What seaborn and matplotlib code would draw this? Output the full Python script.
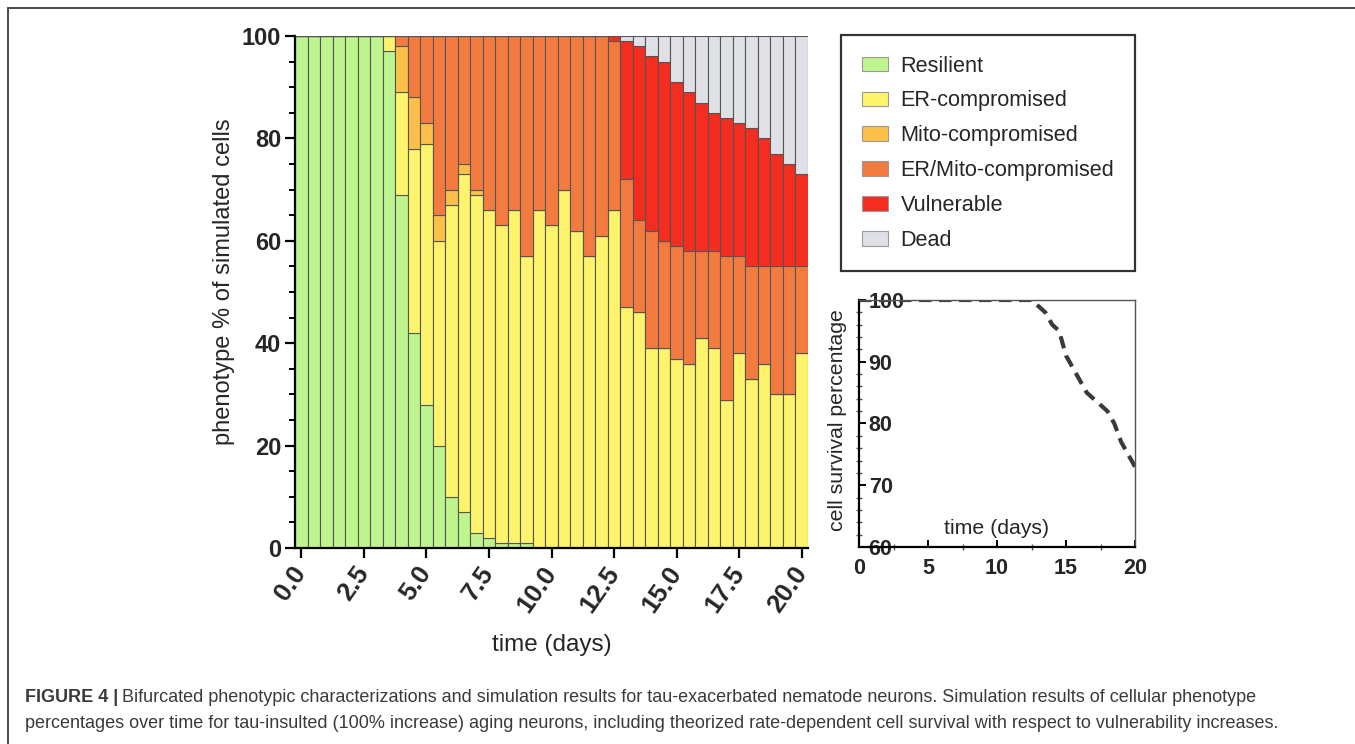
import numpy as np
import pandas as pd
import matplotlib
matplotlib.use("Agg")
import matplotlib.pyplot as plt
import seaborn as sns
from matplotlib.patches import Patch
from matplotlib.lines import Line2D
from matplotlib.ticker import MultipleLocator

# ---------------- data ----------------
time_days = [0.0, 0.5, 1.0, 1.5, 2.0, 2.5, 3.0, 3.5, 4.0, 4.5,
             5.0, 5.5, 6.0, 6.5, 7.0, 7.5, 8.0, 8.5, 9.0, 9.5,
             10.0, 10.5, 11.0, 11.5, 12.0, 12.5, 13.0, 13.5, 14.0, 14.5,
             15.0, 15.5, 16.0, 16.5, 17.0, 17.5, 18.0, 18.5, 19.0, 19.5, 20.0]
resilient = [100, 100, 100, 100, 100, 100, 100, 97, 69, 42,
             28, 20, 10, 7, 3, 2, 1, 1, 1, 0,
             0, 0, 0, 0, 0, 0, 0, 0, 0, 0,
             0, 0, 0, 0, 0, 0, 0, 0, 0, 0, 0]
er_comp = [0, 0, 0, 0, 0, 0, 0, 3, 20, 36,
           51, 40, 57, 66, 66, 64, 62, 65, 56, 66,
           63, 70, 62, 57, 61, 66, 47, 46, 39, 39,
           37, 36, 41, 39, 29, 38, 33, 36, 30, 30, 38]
mito_comp = [0, 0, 0, 0, 0, 0, 0, 0, 9, 10,
             4, 5, 3, 2, 1, 0, 0, 0, 0, 0,
             0, 0, 0, 0, 0, 0, 0, 0, 0, 0,
             0, 0, 0, 0, 0, 0, 0, 0, 0, 0, 0]
er_mito_comp = [0, 0, 0, 0, 0, 0, 0, 0, 2, 12,
                17, 35, 30, 25, 30, 34, 37, 34, 43, 34,
                37, 30, 38, 43, 39, 33, 25, 18, 23, 21,
                22, 22, 17, 19, 28, 19, 22, 19, 25, 25, 17]
vulnerable = [0, 0, 0, 0, 0, 0, 0, 0, 0, 0,
              0, 0, 0, 0, 0, 0, 0, 0, 0, 0,
              0, 0, 0, 0, 0, 1, 27, 34, 34, 35,
              32, 31, 29, 27, 27, 26, 27, 25, 22, 20, 18]
dead = [0, 0, 0, 0, 0, 0, 0, 0, 0, 0,
        0, 0, 0, 0, 0, 0, 0, 0, 0, 0,
        0, 0, 0, 0, 0, 0, 1, 2, 4, 5,
        9, 11, 13, 15, 16, 17, 18, 20, 23, 25, 27]

phenotypes = ["Resilient", "ER-compromised", "Mito-compromised",
              "ER/Mito-compromised", "Vulnerable", "Dead"]
colors = ["#bff58f", "#fdf46c", "#fcc049", "#f47b40", "#f42d20", "#e0e1e7"]
x_tick_values = [0.0, 2.5, 5.0, 7.5, 10.0, 12.5, 15.0, 17.5, 20.0]
x_tick_labels = ["0.0", "2.5", "5.0", "7.5", "10.0", "12.5", "15.0", "17.5", "20.0"]

series = [resilient, er_comp, mito_comp, er_mito_comp, vulnerable, dead]
df = pd.DataFrame({
    "time": np.tile(np.asarray(time_days, float), len(phenotypes)),
    "phenotype": np.repeat(phenotypes, len(time_days)),
    "pct": np.concatenate([np.asarray(s, float) for s in series]),
})
survival = [100 - d for d in dead]
palette = dict(zip(phenotypes, colors))

# ---------------- figure ----------------
sns.set_theme(style="ticks")
plt.rcParams["font.family"] = ["Liberation Sans", "DejaVu Sans"]

W, H = 1355, 744
fig = plt.figure(figsize=(W / 100, H / 100), dpi=100)
fig.patch.set_facecolor("white")


def fx(px):
    return px / W


def fy(py):
    return 1 - py / H


# main stacked chart
ax = fig.add_axes([fx(295), fy(548), fx(808) - fx(295), fy(36) - fy(548)])
sns.histplot(data=df, x="time", weights="pct", hue="phenotype",
             hue_order=phenotypes[::-1], multiple="stack",
             binwidth=0.5, binrange=(-0.25, 20.25),
             palette=palette, alpha=1, edgecolor="#555555", linewidth=0.8,
             legend=False, ax=ax)
ax.set_xlim(-0.25, 20.25)
ax.set_ylim(0, 100)
ax.set_xticks(x_tick_values)
ax.set_xticklabels(x_tick_labels, rotation=55, ha="right", va="center",
                   rotation_mode="anchor")
ax.yaxis.set_major_locator(MultipleLocator(20))
ax.yaxis.set_minor_locator(MultipleLocator(5))
ax.tick_params(axis="both", which="major", length=7, width=1.6,
               labelsize=17, color="black", pad=3)
ax.tick_params(axis="x", which="major", labelsize=18.5, pad=8)
ax.tick_params(axis="y", which="minor", length=4, width=1.4, color="black")
for lbl in ax.get_xticklabels() + ax.get_yticklabels():
    lbl.set_fontweight("bold")
sns.despine(ax=ax)
for s in ("left", "bottom"):
    ax.spines[s].set_linewidth(1.6)
    ax.spines[s].set_color("black")
ax.set_xlabel("time (days)", fontsize=17.5)
ax.set_ylabel("phenotype % of simulated cells", fontsize=17)
ax.xaxis.set_label_coords(0.5, -0.168)
ax.yaxis.set_label_coords(-0.117, 0.52)

# legend
handles = [Patch(facecolor=palette[p], edgecolor="#9a9a9a", linewidth=0.8, label=p)
           for p in phenotypes]
leg = ax.legend(handles=handles, loc="upper left",
                bbox_to_anchor=(fx(841), fy(35)), bbox_transform=fig.transFigure,
                borderaxespad=0, frameon=True, fancybox=False, edgecolor="black",
                fontsize=15.6, handlelength=1.2, handleheight=0.65,
                handletextpad=0.6, borderpad=0.95, labelspacing=0.64)
leg.get_frame().set_linewidth(1.6)

# inset survival chart
ax2 = fig.add_axes([fx(859), fy(547), fx(1135) - fx(859), fy(300) - fy(547)])
sns.lineplot(x=time_days, y=survival, ax=ax2, color="#3a3a3a", linewidth=3,
             linestyle=(0, (3, 1.8)))
ax2.set_xlim(0, 20)
ax2.set_ylim(60, 100)
ax2.xaxis.set_major_locator(MultipleLocator(5))
ax2.xaxis.set_minor_locator(MultipleLocator(2.5))
ax2.yaxis.set_major_locator(MultipleLocator(10))
ax2.yaxis.set_minor_locator(MultipleLocator(2))
ax2.tick_params(axis="both", which="major", direction="in", length=5, width=1.4,
                labelsize=15.5, color="black")
ax2.tick_params(axis="both", which="minor", direction="inout", length=4, width=1,
                color="#555555")
ax2.tick_params(axis="y", which="major", pad=-7)
ax2.tick_params(axis="x", which="major", pad=8)
for lbl in ax2.get_yticklabels():
    lbl.set_horizontalalignment("left")
    lbl.set_bbox(dict(facecolor="white", edgecolor="none", pad=0.5))
for lbl in ax2.get_xticklabels() + ax2.get_yticklabels():
    lbl.set_fontweight("bold")
for s in ("left", "bottom"):
    ax2.spines[s].set_linewidth(1.6)
    ax2.spines[s].set_color("black")
for s in ("top", "right"):
    ax2.spines[s].set_linewidth(1.0)
    ax2.spines[s].set_color("#555555")
ax2.set_xlabel("")
ax2.set_ylabel("cell survival percentage", fontsize=15.3)
ax2.yaxis.set_label_coords(-0.045, 0.514)
ax2.text(10, 63, "time (days)", ha="center", va="center", fontsize=15.3)

# caption
cap_color = "#3a3a3a"
cap_size = 13.0
t1 = fig.text(fx(25), fy(698), "FIGURE 4 |", fontsize=cap_size, fontweight="bold",
              va="center", color=cap_color)
fig.canvas.draw()
bb = t1.get_window_extent(renderer=fig.canvas.get_renderer())
fig.text((bb.x1 + 4) / W, fy(698),
         "Bifurcated phenotypic characterizations and simulation results for "
         "tau-exacerbated nematode neurons. Simulation results of cellular phenotype",
         fontsize=cap_size, va="center", color=cap_color)
fig.text(fx(25), fy(723),
         "percentages over time for tau-insulted (100% increase) aging neurons, "
         "including theorized rate-dependent cell survival with respect to "
         "vulnerability increases.",
         fontsize=cap_size, va="center", color=cap_color)

# outer frame
fig.add_artist(Line2D([fx(8), 1.0], [fy(8), fy(8)], transform=fig.transFigure,
                      color="#505050", linewidth=1.5))
fig.add_artist(Line2D([fx(8), fx(8)], [fy(8), 0.0], transform=fig.transFigure,
                      color="#505050", linewidth=1.5))

fig.savefig("out.png", dpi=100, facecolor="white")
